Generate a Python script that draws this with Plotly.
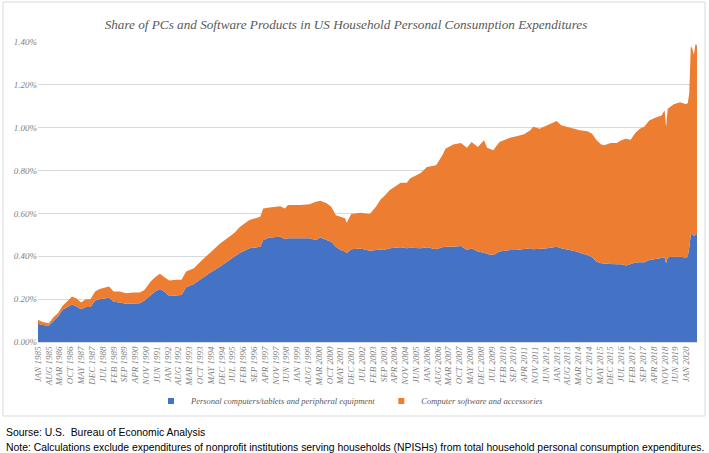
import pandas as pd
import plotly.graph_objects as go

# ---- data (percent of household PCE) ----
months = [
    "1985-01", "1985-04", "1985-08", "1985-11",
    "1986-02", "1986-05", "1986-09", "1986-11",
    "1987-02", "1987-05", "1987-08", "1987-11",
    "1988-02", "1988-05", "1988-11",
    "1989-02", "1989-06", "1989-10",
    "1990-03", "1990-07", "1990-10",
    "1991-02", "1991-05", "1991-08", "1991-11",
    "1992-02", "1992-07", "1992-10",
    "1993-01", "1993-06", "1993-11",
    "1994-04", "1994-11",
    "1995-05", "1995-08", "1995-12",
    "1996-06",
    "1997-01", "1997-03", "1997-07",
    "1998-02", "1998-05", "1998-07",
    "1999-03", "1999-09",
    "2000-01", "2000-04", "2000-08", "2000-11",
    "2001-02", "2001-05", "2001-08", "2001-09", "2001-12",
    "2002-06", "2002-12",
    "2003-04", "2003-07", "2003-09",
    "2004-01", "2004-08", "2004-12",
    "2005-02", "2005-09",
    "2006-01", "2006-07", "2006-11",
    "2007-01", "2007-06", "2007-11",
    "2008-03", "2008-06", "2008-10",
    "2009-02", "2009-04", "2009-08", "2009-12",
    "2010-07", "2010-11",
    "2011-04", "2011-08", "2011-10",
    "2012-02", "2012-07", "2012-11",
    "2013-01", "2013-04", "2013-10",
    "2014-02", "2014-04", "2014-09", "2014-12",
    "2015-03", "2015-06", "2015-08", "2015-12",
    "2016-04", "2016-07", "2016-10",
    "2017-01", "2017-04", "2017-07", "2017-10",
    "2018-01", "2018-05", "2018-09", "2018-11", "2018-12",
    "2019-01", "2019-05", "2019-09",
    "2020-01", "2020-02", "2020-03", "2020-04", "2020-05", "2020-06", "2020-07", "2020-08",
]

pc_share = [
    0.085, 0.079, 0.076, 0.100,
    0.119, 0.150, 0.169, 0.175,
    0.166, 0.153, 0.163, 0.163,
    0.194, 0.200, 0.206,
    0.188, 0.184, 0.178,
    0.180, 0.181, 0.194,
    0.220, 0.236, 0.247, 0.234,
    0.215, 0.219, 0.219,
    0.256, 0.271, 0.296,
    0.321, 0.352,
    0.383, 0.398, 0.417,
    0.437,
    0.445, 0.476, 0.488,
    0.491, 0.479, 0.484,
    0.484, 0.484,
    0.476, 0.488, 0.476, 0.468,
    0.445, 0.429, 0.422, 0.414, 0.433,
    0.436, 0.426,
    0.429, 0.432, 0.429,
    0.437, 0.442, 0.437,
    0.440, 0.437,
    0.442, 0.433, 0.442,
    0.445, 0.445, 0.448,
    0.429, 0.437, 0.422,
    0.417, 0.411, 0.406, 0.422,
    0.429, 0.429,
    0.433, 0.437, 0.433,
    0.434, 0.437, 0.442,
    0.445, 0.437, 0.429,
    0.422, 0.417, 0.406, 0.395,
    0.375, 0.367, 0.367, 0.364,
    0.363, 0.363, 0.357,
    0.363, 0.371, 0.372, 0.372,
    0.383, 0.386, 0.391, 0.394, 0.367,
    0.395, 0.398, 0.398,
    0.394, 0.400, 0.440, 0.500, 0.505, 0.495, 0.500, 0.505,
]

software_share = [
    0.019, 0.014, 0.012, 0.016,
    0.016, 0.019, 0.028, 0.037,
    0.037, 0.031, 0.037, 0.037,
    0.042, 0.047, 0.053,
    0.048, 0.052, 0.050,
    0.051, 0.050, 0.049,
    0.062, 0.066, 0.071, 0.068,
    0.072, 0.071, 0.071,
    0.073, 0.073, 0.084,
    0.094, 0.108,
    0.108, 0.109, 0.121,
    0.132,
    0.139, 0.147, 0.140,
    0.143, 0.144, 0.155,
    0.155, 0.159,
    0.178, 0.171, 0.171, 0.163,
    0.147, 0.155, 0.155, 0.143, 0.164,
    0.167, 0.171,
    0.202, 0.233, 0.249,
    0.272, 0.301, 0.306,
    0.323, 0.352,
    0.375, 0.392, 0.429,
    0.457, 0.477, 0.481,
    0.478, 0.496, 0.488,
    0.524, 0.496, 0.489, 0.511,
    0.524, 0.531,
    0.536, 0.551, 0.572,
    0.561, 0.574, 0.580,
    0.586, 0.574, 0.571,
    0.573, 0.571, 0.578, 0.577,
    0.566, 0.555, 0.551, 0.565,
    0.566, 0.578, 0.592,
    0.581, 0.604, 0.623, 0.634,
    0.651, 0.661, 0.666, 0.687, 0.636,
    0.693, 0.711, 0.721,
    0.715, 0.715, 0.720, 0.880, 0.865, 0.845, 0.890, 0.880,
]

tick_labels = [
    "JAN 1985", "AUG 1985", "MAR 1986", "OCT 1986", "MAY 1987", "DEC 1987",
    "JUL 1988", "FEB 1989", "SEP 1989", "APR 1990", "NOV 1990", "JUN 1991",
    "JAN 1992", "AUG 1992", "MAR 1993", "OCT 1993", "MAY 1994", "DEC 1994",
    "JUL 1995", "FEB 1996", "SEP 1996", "APR 1997", "NOV 1997", "JUN 1998",
    "JAN 1999", "AUG 1999", "MAR 2000", "OCT 2000", "MAY 2001", "DEC 2001",
    "JUL 2002", "FEB 2003", "SEP 2003", "APR 2004", "NOV 2004", "JUN 2005",
    "JAN 2006", "AUG 2006", "MAR 2007", "OCT 2007", "MAY 2008", "DEC 2008",
    "JUL 2009", "FEB 2010", "SEP 2010", "APR 2011", "NOV 2011", "JUN 2012",
    "JAN 2013", "AUG 2013", "MAR 2014", "OCT 2014", "MAY 2015", "DEC 2015",
    "JUL 2016", "FEB 2017", "SEP 2017", "APR 2018", "NOV 2018", "JUN 2019",
    "JAN 2020",
]

series_names = ["Personal computers/tablets and peripheral equipment",
                "Computer software and accessories"]
y_ticks = [0.0, 0.2, 0.4, 0.6, 0.8, 1.0, 1.2, 1.4]
y_tick_labels = ["0.00%", "0.20%", "0.40%", "0.60%", "0.80%", "1.00%", "1.20%", "1.40%"]

# ---- styling ----
BLUE = "#4472C4"
ORANGE = "#ED7D31"
SERIF = "Liberation Serif, Times New Roman, serif"
SANS = "Liberation Sans, Arial, sans-serif"
GREY = "#595959"

x_dates = pd.to_datetime(months, format="%Y-%m")
tick_vals = pd.to_datetime(tick_labels, format="%b %Y")

fig = go.Figure()
for name, vals, col in [(series_names[0], pc_share, BLUE),
                        (series_names[1], software_share, ORANGE)]:
    fig.add_trace(go.Scatter(
        x=x_dates, y=vals, name=name, mode="lines", stackgroup="one",
        line=dict(width=0, color=col), fillcolor=col, showlegend=False,
    ))
# legend swatches (small squares, as in the reference)
for name, col in [(series_names[0], BLUE), (series_names[1], ORANGE)]:
    fig.add_trace(go.Scatter(
        x=[None], y=[None], mode="markers", name=name,
        marker=dict(symbol="square", size=6, color=col),
    ))

W, H = 709, 453
L, R, T, B = 38, 12, 42, 111
PW, PH = W - L - R, H - T - B


def px(xpix):
    return (xpix - L) / PW


def py(ypix):
    return (H - B - ypix) / PH


fig.update_layout(
    width=W, height=H,
    margin=dict(l=L, r=R, t=T, b=B, autoexpand=False),
    paper_bgcolor="white", plot_bgcolor="white",
    title=dict(
        text="Share of PCs and Software Products in US Household Personal Consumption Expenditures",
        font=dict(family=SERIF, size=13.2, color=GREY, style="italic"),
        x=346 / W, xref="container", xanchor="center",
        y=1 - 24 / H, yref="container", yanchor="middle",
    ),
    xaxis=dict(
        type="date", range=[x_dates[0], x_dates[-1]],
        tickmode="array", tickvals=tick_vals, ticktext=tick_labels,
        tickangle=-90, ticks="", showgrid=False, zeroline=False,
        showline=True, linecolor="#d9d9d9", linewidth=1,
        tickfont=dict(family=SERIF, size=9, color="#7f7f7f", style="italic"),
        automargin=False,
    ),
    yaxis=dict(
        range=[0, 1.4], tickmode="array", tickvals=y_ticks, ticktext=y_tick_labels,
        ticks="", showgrid=True, gridcolor="#d9d9d9", gridwidth=1, zeroline=False,
        tickfont=dict(family=SERIF, size=9, color="#7f7f7f", style="italic"),
        automargin=False,
    ),
    legend=dict(
        orientation="h", x=px(350), xanchor="center", y=py(401), yanchor="middle",
        font=dict(family=SERIF, size=8.5, color=GREY, style="italic"),
        itemwidth=30, bgcolor="rgba(0,0,0,0)", traceorder="normal",
    ),
    showlegend=True,
)

# chart frame
fig.add_shape(type="rect", xref="paper", yref="paper",
              x0=px(3), x1=px(705), y0=py(416), y1=py(2),
              line=dict(color="#d9d9d9", width=1), fillcolor="rgba(0,0,0,0)",
              layer="below")

fig.add_annotation(text="Sourse: U.S.&nbsp; Bureau of Economic Analysis",
                   xref="paper", yref="paper", x=px(4), y=py(432),
                   xanchor="left", yanchor="middle", showarrow=False,
                   font=dict(family=SANS, size=10.4, color="#000000"))
fig.add_annotation(text="Note: Calculations exclude expenditures of nonprofit institutions serving households (NPISHs) from total household personal consumption expenditures.",
                   xref="paper", yref="paper", x=px(4), y=py(447),
                   xanchor="left", yanchor="middle", showarrow=False,
                   font=dict(family=SANS, size=10.4, color="#000000"))

fig.write_html("out.html", config={"displayModeBar": False},
               post_script="document.body.style.margin='0';document.body.style.overflow='hidden';")
